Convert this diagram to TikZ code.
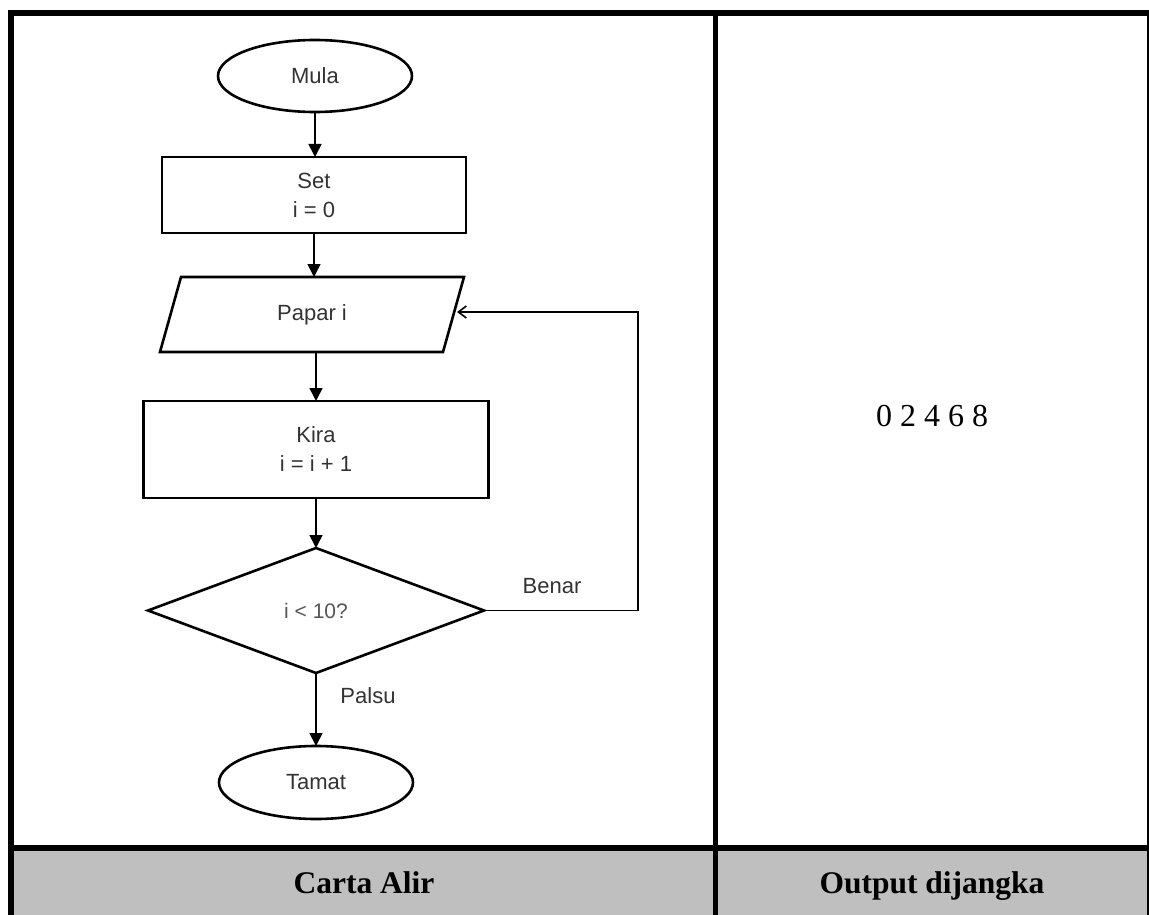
\documentclass[tikz,border=0pt]{standalone}
\usepackage{fontspec}
\setmainfont{Liberation Serif}
\newfontfamily\flowfont{Liberation Sans}
\usetikzlibrary{shapes.geometric,arrows.meta}
\definecolor{bandgray}{HTML}{BFBFBF}
\definecolor{flowtext}{HTML}{333333}
\definecolor{condtext}{HTML}{555555}
\begin{document}
\begin{tikzpicture}[x=1pt,y=-1pt,
  every node/.style={inner sep=0pt, outer sep=0pt},
  flowtxt/.style={font=\flowfont\fontsize{22}{29}\selectfont, text=flowtext, align=center},
  term/.style={flowtxt, draw, line width=2.6pt, ellipse, minimum width=194pt, minimum height=72pt},
  proc/.style={flowtxt, draw, line width=2.6pt, rectangle},
  dec/.style={flowtxt, font=\flowfont\fontsize{21}{29}\selectfont, text=condtext, draw, line width=2.6pt, diamond, minimum width=336pt, minimum height=125pt},
  flowarrow/.style={line width=1.6pt, -{Triangle[length=13pt,width=13pt]}},
  looparrow/.style={line width=1.6pt, -{Straight Barb[length=8pt,width=12pt]}},
  edgetxt/.style={flowtxt},
  headtxt/.style={font=\bfseries\fontsize{31.5}{36}\selectfont, anchor=base},
  celltxt/.style={font=\fontsize{32}{36}\selectfont},
  rule/.style={fill=black, draw=none},
]
\useasboundingbox (0,0) rectangle (1149,915);
\fill[white] (0,0) rectangle (1149,915);

% table
\fill[bandgray] (14,851) rectangle (1147,915);
\fill[rule] (8,10) rectangle (1149,16);
\fill[rule] (8,10) rectangle (14,915);
\fill[rule] (8,845) rectangle (1149,851);
\fill[rule] (713,10) rectangle (718,915);
\fill[rule] (1146.5,10) rectangle (1148.5,915);

\node[headtxt] (h1) at (364,893) {Carta Alir};
\node[headtxt] (h2) at (932,893) {Output dijangka};
\node[celltxt] (out) at (932,416) {0 2 4 6 8};

% flowchart
\node[term] (mula) at (315,76) {Mula};
\node[proc, minimum width=304pt, minimum height=76pt] (set) at (314,195) {Set\\i = 0};
\draw[line width=2.6pt, line join=miter] (181,277) -- (464,277) -- (443,352) -- (160,352) -- cycle;
\node[flowtxt, minimum width=250pt, minimum height=75pt] (papar) at (312,314.5) {Papar i};
\node[proc, minimum width=345pt, minimum height=97pt] (kira) at (316,449.5) {Kira\\i = i + 1};
\node[dec] (cond) at (316,610.5) {i < 10?};
\node[term, minimum height=73pt] (tamat) at (316,782.5) {Tamat};

\coordinate (pin) at (457,312);
\coordinate (loopx) at (638,0);

\draw[flowarrow] (mula.south) -- (mula.south |- set.north);
\draw[flowarrow] (set.south) -- (set.south |- papar.north);
\draw[flowarrow] (papar.south -| kira.north) -- (kira.north);
\draw[flowarrow] (kira.south) -- (cond.north);
\draw[flowarrow] (cond.south) -- (tamat.north);
\draw[looparrow] (cond.east) -- (cond.east -| loopx) |- (pin);

\node[edgetxt] (benar) at (552,586) {Benar};
\node[edgetxt] (palsu) at (368,696) {Palsu};
\end{tikzpicture}
\end{document}
